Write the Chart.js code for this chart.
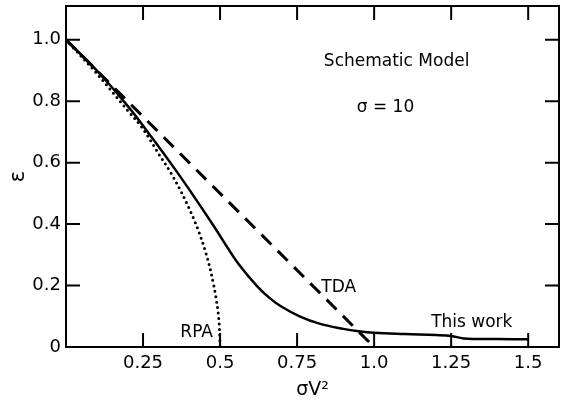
<!DOCTYPE html>
<html>
<head>
<meta charset="utf-8">
<script src="https://cdn.jsdelivr.net/npm/chart.js@4"></script>
<style>
  html, body { margin: 0; padding: 0; background: #fff; }
</style>
</head>
<body>
<canvas id="chart" width="562" height="402"></canvas>
<script>
// epsilon vs sigma*V^2
const thisWorkX = [0, 0.1, 0.2, 0.28, 0.36, 0.42, 0.48, 0.52, 0.56, 0.62, 0.66, 0.7, 0.76, 0.82, 0.9, 0.95, 1.0, 1.1, 1.2, 1.25, 1.29, 1.4, 1.5];
const thisWorkY = [1.0, 0.9, 0.785, 0.68, 0.57, 0.483, 0.393, 0.33, 0.27, 0.198, 0.16, 0.131, 0.099, 0.077, 0.059, 0.051, 0.046, 0.042, 0.039, 0.036, 0.028, 0.026, 0.025];

const tdaX = [0, 0.5, 1.0];
const tdaY = [1.0, 0.5, 0];

const rpaX = [0, 0.1, 0.2, 0.25, 0.3, 0.35, 0.4, 0.44, 0.47, 0.49, 0.495, 0.498, 0.5];
const rpaY = [1.0, 0.89, 0.77, 0.71, 0.63, 0.55, 0.45, 0.35, 0.245, 0.14, 0.1, 0.06, 0];

const xTicks = [0.25, 0.5, 0.75, 1.0, 1.25, 1.5];
const xTickLabels = ['0.25', '0.5', '0.75', '1.0', '1.25', '1.5'];
const yTicks = [0, 0.2, 0.4, 0.6, 0.8, 1.0];
const yTickLabels = ['0', '0.2', '0.4', '0.6', '0.8', '1.0'];

const noteTexts = ['Schematic Model', 'σ = 10', 'TDA', 'RPA', 'This work'];

const toPoints = (xs, ys) => xs.map((x, i) => ({ x: x, y: ys[i] }));

// label spots in data units
const notePlaces = [[1.073, 0.928], [1.037, 0.778], [0.885, 0.195], [0.424, 0.048], [1.317, 0.081]];

const framePlugin = {
  id: 'frame',
  beforeDraw(chart) {
    const ctx = chart.ctx;
    ctx.save();
    ctx.fillStyle = '#fff';
    ctx.fillRect(0, 0, chart.width, chart.height);
    ctx.restore();
  },
  afterDatasetsDraw(chart) {
    const { ctx, chartArea: a, scales } = chart;
    const x = scales.x, y = scales.y;
    ctx.save();
    ctx.strokeStyle = '#000';
    ctx.lineWidth = 2;
    ctx.strokeRect(a.left, a.top, a.right - a.left, a.bottom - a.top);
    ctx.beginPath();
    xTicks.forEach(v => {
      const px = x.getPixelForValue(v);
      ctx.moveTo(px, a.bottom); ctx.lineTo(px, a.bottom - 14);
      ctx.moveTo(px, a.top); ctx.lineTo(px, a.top + 14);
    });
    yTicks.forEach(v => {
      if (v === 0) return;
      const py = y.getPixelForValue(v);
      ctx.moveTo(a.left, py); ctx.lineTo(a.left + 14, py);
      ctx.moveTo(a.right, py); ctx.lineTo(a.right - 14, py);
    });
    ctx.stroke();

    ctx.fillStyle = '#000';
    ctx.font = '17px "DejaVu Sans"';
    ctx.textAlign = 'center';
    ctx.textBaseline = 'middle';
    noteTexts.forEach((t, i) => {
      ctx.fillText(t, x.getPixelForValue(notePlaces[i][0]), y.getPixelForValue(notePlaces[i][1]));
    });
    ctx.restore();
  }
};

Chart.defaults.font.family = '"DejaVu Sans", sans-serif';
Chart.defaults.font.size = 18;
Chart.defaults.color = '#000';

new Chart(document.getElementById('chart'), {
  type: 'line',
  data: {
    datasets: [{
      label: 'This work',
      data: toPoints(thisWorkX, thisWorkY),
      borderColor: '#000',
      borderWidth: 2.5,
      pointRadius: 0,
      tension: 0.4,
      fill: false
    }, {
      label: 'TDA',
      data: toPoints(tdaX, tdaY),
      borderColor: '#000',
      borderWidth: 3,
      borderDash: [14, 9],
      pointRadius: 0,
      fill: false
    }, {
      label: 'RPA',
      data: toPoints(rpaX, rpaY),
      borderColor: '#000',
      borderWidth: 3,
      borderDash: [0, 5.5],
      borderCapStyle: 'round',
      pointRadius: 0,
      cubicInterpolationMode: 'monotone',
      fill: false
    }]
  },
  options: {
    responsive: false,
    animation: false,
    devicePixelRatio: 1,
    layout: { padding: { top: 6, right: 3, left: 0, bottom: 0 } },
    plugins: { legend: { display: false }, tooltip: { enabled: false } },
    scales: {
      x: {
        type: 'linear',
        min: 0,
        max: 1.6,
        grid: { display: false, drawTicks: false },
        border: { display: false },
        afterBuildTicks: s => { s.ticks = xTicks.map(v => ({ value: v })); },
        afterFit: s => { s.height = 55; s.paddingLeft = 0; s.paddingRight = 0; },
        ticks: {
          padding: 6,
          maxRotation: 0,
          autoSkip: false,
          callback: (v, i) => xTickLabels[i]
        },
        title: {
          display: true,
          text: 'σV²',
          font: { size: 19 },
          padding: { top: 0, bottom: 1 }
        }
      },
      y: {
        type: 'linear',
        min: 0,
        max: 1.11,
        grid: { display: false, drawTicks: false },
        border: { display: false },
        afterBuildTicks: s => { s.ticks = yTicks.map(v => ({ value: v })); },
        afterFit: s => { s.width = 66; s.paddingTop = 0; s.paddingBottom = 0; },
        ticks: {
          padding: 5,
          autoSkip: false,
          callback: (v, i) => yTickLabels[i]
        },
        title: {
          display: true,
          text: 'ε',
          font: { size: 21 },
          padding: { top: 6, bottom: 0 }
        }
      }
    }
  },
  plugins: [framePlugin]
});
</script>
</body>
</html>
